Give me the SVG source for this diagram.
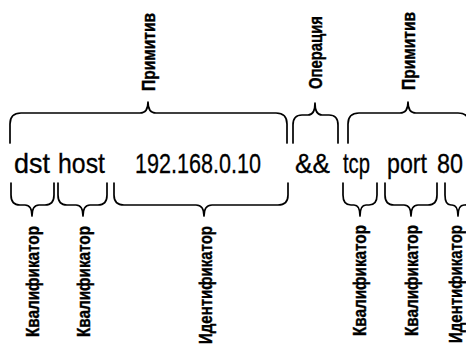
<svg xmlns="http://www.w3.org/2000/svg" width="466" height="350" viewBox="0 0 466 350">
  <style>
    .bg { fill: #ffffff; }
    .brace { fill: none; stroke: #000000; stroke-width: 1.7; stroke-linecap: round; stroke-linejoin: round; }
    .expr { font-family: "Liberation Sans", Arial, sans-serif; font-size: 28px; fill: #000000; stroke: #000000; stroke-width: 0.3; }
    .lbl { font-family: "Liberation Sans", Arial, sans-serif; font-size: 19px; font-weight: bold; fill: #000000; stroke: #000000; stroke-width: 0.4; }
  </style>
  <rect class="bg" x="0" y="0" width="466" height="350"/>

  <!-- filter expression tokens -->
  <g id="expression">
    <text class="expr" x="14" y="173" textLength="36" lengthAdjust="spacingAndGlyphs">dst</text>
    <text class="expr" x="58" y="173" textLength="47" lengthAdjust="spacingAndGlyphs">host</text>
    <text class="expr" x="135" y="173" textLength="126" lengthAdjust="spacingAndGlyphs">192.168.0.10</text>
    <text class="expr" x="295" y="173" textLength="35" lengthAdjust="spacingAndGlyphs">&amp;&amp;</text>
    <text class="expr" x="343" y="173" textLength="27" lengthAdjust="spacingAndGlyphs">tcp</text>
    <text class="expr" x="387" y="173" textLength="40" lengthAdjust="spacingAndGlyphs">port</text>
    <text class="expr" x="437" y="173" textLength="26" lengthAdjust="spacingAndGlyphs">80</text>
  </g>

  <!-- braces above and below the expression -->
  <g id="connectors">
    <!-- upper braces -->
    <path class="brace" d="M10,143 V124 Q10,113 21,113 H140 Q148,113 148,102 Q148,113 156,113 H276 Q287,113 287,124 V143"/>
    <path class="brace" d="M293,143 V125 Q293,115 302,115 H308 Q315,115 315,103 Q315,115 322,115 H329 Q338,115 338,125 V143"/>
    <path class="brace" d="M348,143 V124 Q348,113 359,113 H400 Q408,113 408,102 Q408,113 416,113 H458 Q469,113 469,124 V143"/>
    <!-- lower braces -->
    <path class="brace" d="M11,183 V195 Q11,205 20,205 H25 Q32,205 32,216 Q32,205 39,205 H45 Q54,205 54,195 V183"/>
    <path class="brace" d="M58,183 V195 Q58,205 67,205 H76 Q83,205 83,216 Q83,205 90,205 H98 Q107,205 107,195 V183"/>
    <path class="brace" d="M114,183 V195 Q114,205 124,205 H196 Q204,205 204,216 Q204,205 212,205 H278 Q288,205 288,195 V183"/>
    <path class="brace" d="M343,183 V195 Q343,205 351,205 H354 Q360,205 360,216 Q360,205 366,205 H369 Q377,205 377,195 V183"/>
    <path class="brace" d="M385,183 V195 Q385,205 394,205 H404 Q411,205 411,216 Q411,205 418,205 H428 Q437,205 437,195 V183"/>
    <path class="brace" d="M445,183 V195 Q445,205 451,205 H452 Q458,205 458,216 Q458,205 464,205 H465 Q472,205 472,195 V183"/>
  </g>

  <!-- upper labels -->
  <g id="label-primitive-1">
    <text class="lbl" transform="translate(155,91) rotate(-90)" textLength="78" lengthAdjust="spacingAndGlyphs">Примитив</text>
  </g>
  <g id="label-operation">
    <text class="lbl" transform="translate(322,89) rotate(-90)" textLength="73" lengthAdjust="spacingAndGlyphs">Операция</text>
  </g>
  <g id="label-primitive-2">
    <text class="lbl" transform="translate(415,90) rotate(-90)" textLength="78" lengthAdjust="spacingAndGlyphs">Примитив</text>
  </g>

  <!-- lower labels -->
  <g id="label-qualifier-dst">
    <text class="lbl" text-anchor="end" transform="translate(39,226) rotate(-90)" textLength="111" lengthAdjust="spacingAndGlyphs">Квалификатор</text>
  </g>
  <g id="label-qualifier-host">
    <text class="lbl" text-anchor="end" transform="translate(90,226) rotate(-90)" textLength="111" lengthAdjust="spacingAndGlyphs">Квалификатор</text>
  </g>
  <g id="label-identifier-ip">
    <text class="lbl" text-anchor="end" transform="translate(212,226) rotate(-90)" textLength="118" lengthAdjust="spacingAndGlyphs">Идентификатор</text>
  </g>
  <g id="label-qualifier-tcp">
    <text class="lbl" text-anchor="end" transform="translate(366,225) rotate(-90)" textLength="111" lengthAdjust="spacingAndGlyphs">Квалификатор</text>
  </g>
  <g id="label-qualifier-port">
    <text class="lbl" text-anchor="end" transform="translate(418,225) rotate(-90)" textLength="111" lengthAdjust="spacingAndGlyphs">Квалификатор</text>
  </g>
  <g id="label-identifier-port">
    <text class="lbl" text-anchor="end" transform="translate(462,225) rotate(-90)" textLength="118" lengthAdjust="spacingAndGlyphs">Идентификатор</text>
  </g>
</svg>
